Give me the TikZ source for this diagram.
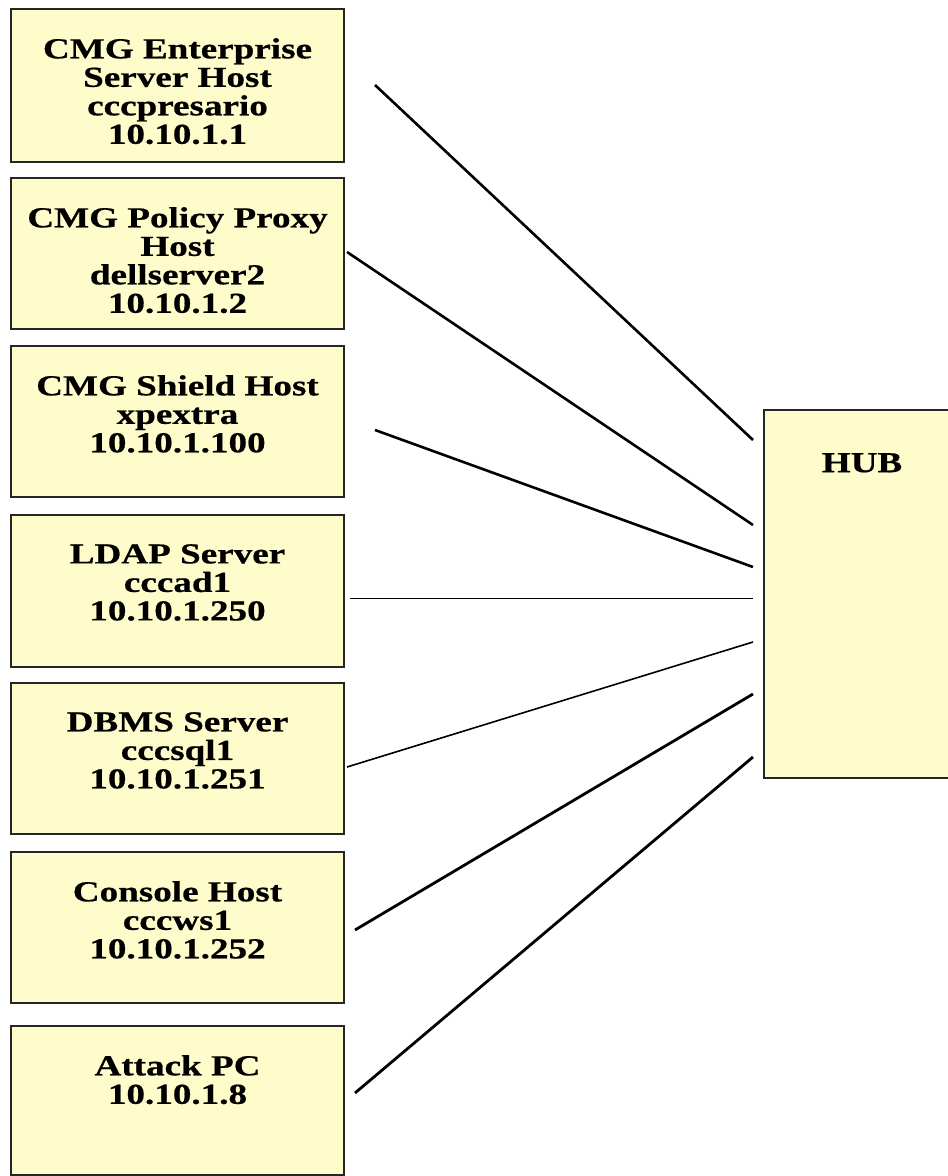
\documentclass[tikz,border=0pt]{standalone}
\usepackage{fontspec}
\usetikzlibrary{calc}
\setmainfont{Liberation Serif}
\newfontfamily\boxfont[FakeStretch=1.28,FakeBold=0.6]{Liberation Serif Bold}
\begin{document}
\begin{tikzpicture}[x=1pt,y=-1pt,
  box/.style={draw=black!85, line width=2pt, fill=yellow!20, rectangle, anchor=north west, inner sep=0pt},
  lbl/.style={anchor=north, align=center, font=\boxfont\fontsize{29}{28.5}\selectfont, inner sep=0pt},
  link/.style={line width=2.6pt, black},
]
\useasboundingbox (0,0) rectangle (948,1176);
\node[box, minimum width=333pt, minimum height=153pt] (b1) at (10,8) {};
\node[box, minimum width=333pt, minimum height=151pt] (b2) at (10,177) {};
\node[box, minimum width=333pt, minimum height=151pt] (b3) at (10,345) {};
\node[box, minimum width=333pt, minimum height=152pt] (b4) at (10,514) {};
\node[box, minimum width=333pt, minimum height=151pt] (b5) at (10,682) {};
\node[box, minimum width=333pt, minimum height=151pt] (b6) at (10,851) {};
\node[box, minimum width=333pt, minimum height=149pt] (b7) at (10,1025) {};
\node[box, minimum width=200pt, minimum height=368pt] (hub) at (763,409) {};
\node[lbl] (t1) at ($(b1.north)+(0,30)$) {CMG Enterprise\\Server Host\\cccpresario\\10.10.1.1};
\node[lbl] (t2) at ($(b2.north)+(0,30)$) {CMG Policy Proxy\\Host\\dellserver2\\10.10.1.2};
\node[lbl] (t3) at ($(b3.north)+(0,30)$) {CMG Shield Host\\xpextra\\10.10.1.100};
\node[lbl] (t4) at ($(b4.north)+(0,30)$) {LDAP Server\\cccad1\\10.10.1.250};
\node[lbl] (t5) at ($(b5.north)+(0,30)$) {DBMS Server\\cccsql1\\10.10.1.251};
\node[lbl] (t6) at ($(b6.north)+(0,30)$) {Console Host\\cccws1\\10.10.1.252};
\node[lbl] (t7) at ($(b7.north)+(0,30)$) {Attack PC\\10.10.1.8};
\node[lbl] (th) at (862,453) {HUB};
\coordinate (s1) at (375,85);   \coordinate (h1) at (753,440);
\coordinate (s2) at (347,252);  \coordinate (h2) at (753,525);
\coordinate (s3) at (375,430);  \coordinate (h3) at (753,567);
\coordinate (s4) at (350,598);  \coordinate (h4) at (753,598);
\coordinate (s5) at (347,767);  \coordinate (h5) at (753,642);
\coordinate (s6) at (355,930);  \coordinate (h6) at (753,694);
\coordinate (s7) at (355,1093); \coordinate (h7) at (753,757);
\draw[link] (s1) -- (h1);
\draw[link] (s2) -- (h2);
\draw[link] (s3) -- (h3);
\draw[link, line width=1pt] (s4) -- (h4);
\draw[link, line width=1.6pt] (s5) -- (h5);
\draw[link, line width=2.8pt] (s6) -- (h6);
\draw[link, line width=2.8pt] (s7) -- (h7);
\end{tikzpicture}
\end{document}
